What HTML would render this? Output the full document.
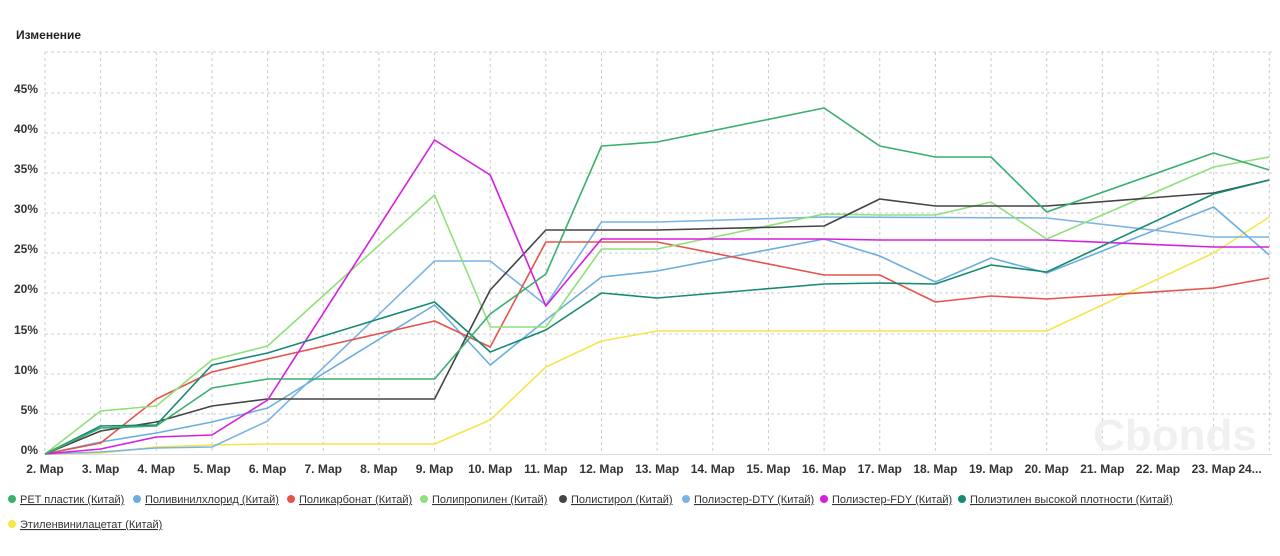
<!DOCTYPE html>
<html><head><meta charset="utf-8"><style>
body{margin:0;background:#fff;font-family:"Liberation Sans",sans-serif}
</style></head><body>
<svg width="1280" height="551" xmlns="http://www.w3.org/2000/svg" font-family="Liberation Sans, sans-serif">
<text x="16" y="39" font-size="12" font-weight="bold" fill="#222">Изменение</text>
<g stroke="#ccc" stroke-dasharray="3,3" stroke-width="1">
<line x1="45" x2="1272" y1="52" y2="52"/><line x1="45" x2="1272" y1="93" y2="93"/><line x1="45" x2="1272" y1="133" y2="133"/><line x1="45" x2="1272" y1="173" y2="173"/><line x1="45" x2="1272" y1="213" y2="213"/><line x1="45" x2="1272" y1="253" y2="253"/><line x1="45" x2="1272" y1="293" y2="293"/><line x1="45" x2="1272" y1="334" y2="334"/><line x1="45" x2="1272" y1="374" y2="374"/><line x1="45" x2="1272" y1="414" y2="414"/>
</g>
<g id="vg" stroke="#ccc" stroke-dasharray="3,3"></g>
<line x1="45" x2="1272" y1="454.5" y2="454.5" stroke="#ddd"/>
<text x="1175" y="450" font-size="44" font-weight="bold" fill="#f0f0f0" text-anchor="middle">Cbonds</text>
<g font-size="12" font-weight="bold" fill="#333" text-anchor="end">
<text x="38" y="93">45%</text><text x="38" y="133">40%</text><text x="38" y="173">35%</text><text x="38" y="213">30%</text><text x="38" y="253">25%</text><text x="38" y="293">20%</text><text x="38" y="334">15%</text><text x="38" y="374">10%</text><text x="38" y="414">5%</text><text x="38" y="454">0%</text>
</g>
<g id="xl" font-size="12" font-weight="bold" fill="#333" text-anchor="middle"></g>
<g id="lines" fill="none" stroke-width="1.6" stroke-linejoin="round"></g>
<g font-size="11" fill="#333" text-decoration="underline">
<circle cx="12" cy="499" r="4" fill="#3aaf6e"/><text x="20" y="503">PET пластик (Китай)</text>
<circle cx="137" cy="499" r="4" fill="#6aaee0"/><text x="145" y="503">Поливинилхлорид (Китай)</text>
<circle cx="291" cy="499" r="4" fill="#e5534b"/><text x="299" y="503">Поликарбонат (Китай)</text>
<circle cx="424" cy="499" r="4" fill="#90e07a"/><text x="432" y="503">Полипропилен (Китай)</text>
<circle cx="563" cy="499" r="4" fill="#444"/><text x="571" y="503">Полистирол (Китай)</text>
<circle cx="686" cy="499" r="4" fill="#7ab4e6"/><text x="694" y="503">Полиэстер-DTY (Китай)</text>
<circle cx="824" cy="499" r="4" fill="#d61ee0"/><text x="832" y="503">Полиэстер-FDY (Китай)</text>
<circle cx="962" cy="499" r="4" fill="#168a72"/><text x="970" y="503">Полиэтилен высокой плотности (Китай)</text>
<circle cx="12" cy="524" r="4" fill="#f5e64a"/><text x="20" y="528">Этиленвинилацетат (Китай)</text>
</g>
</svg>
<script>
var NS="http://www.w3.org/2000/svg";
function X(d){return 45+55.65*(d-2);}
var vg=document.getElementById("vg"),xl=document.getElementById("xl");
for(var d=2;d<=24;d++){var l=document.createElementNS(NS,"line");l.setAttribute("x1",X(d));l.setAttribute("x2",X(d));l.setAttribute("y1",52);l.setAttribute("y2",454);vg.appendChild(l);
var t=document.createElementNS(NS,"text");t.setAttribute("x",d==24?1250:X(d));t.setAttribute("y",473);t.textContent=d==24?"24...":d+". Мар";xl.appendChild(t);}
var S=[
["#f5e64a",[[2,454],[3,453],[4,447],[5,445],[6,444],[9,444],[10,420],[11,367],[12,341],[13,331],[20,331],[23,253],[24,217]]],
["#6aaee0",[[2,454],[3,442],[4,433],[5,422],[6,408],[9,305],[10,365],[11,320],[12,277],[13,271],[16,239],[17,256],[18,282],[19,258],[20,273],[23,207],[24,255]]],
["#7ab4e6",[[2,454],[3,452],[4,448],[5,447],[6,421],[9,261],[10,261],[11,305],[12,222],[13,222],[16,217],[20,218],[23,237],[24,237]]],
["#e5534b",[[2,454],[3,443],[4,399],[5,372],[6,359],[9,321],[10,347],[11,242],[12,242],[13,242],[16,275],[17,275],[18,302],[19,296],[20,299],[23,288],[24,278]]],
["#90e07a",[[2,454],[3,411],[4,406],[5,360],[6,346],[9,195],[10,327],[11,327],[12,249],[13,249],[16,214],[17,215],[18,215],[19,202],[20,239],[23,167],[24,157]]],
["#444444",[[2,454],[3,431],[4,422],[5,406],[6,399],[9,399],[10,290],[11,230],[12,230],[13,230],[16,226],[17,199],[18,206],[19,206],[20,206],[23,193],[24,180]]],
["#d61ee0",[[2,454],[3,449],[4,437],[5,435],[6,400],[9,140],[10,175],[11,306],[12,239],[13,239],[16,239],[17,240],[20,240],[23,247],[24,247]]],
["#168a72",[[2,454],[3,426],[4,425],[5,365],[6,353],[9,302],[10,352],[11,330],[12,293],[13,298],[16,284],[17,283],[18,284],[19,265],[20,272],[23,194],[24,180]]],
["#3aaf6e",[[2,454],[3,428],[4,426],[5,388],[6,379],[9,379],[10,314],[11,274],[12,146],[13,142],[16,108],[17,146],[18,157],[19,157],[20,212],[23,153],[24,170]]]
];
var g=document.getElementById("lines");
S.forEach(function(s){var p=document.createElementNS(NS,"polyline");p.setAttribute("stroke",s[0]);p.setAttribute("points",s[1].map(function(q){return X(q[0])+","+q[1];}).join(" "));g.appendChild(p);});
</script>
</body></html>
